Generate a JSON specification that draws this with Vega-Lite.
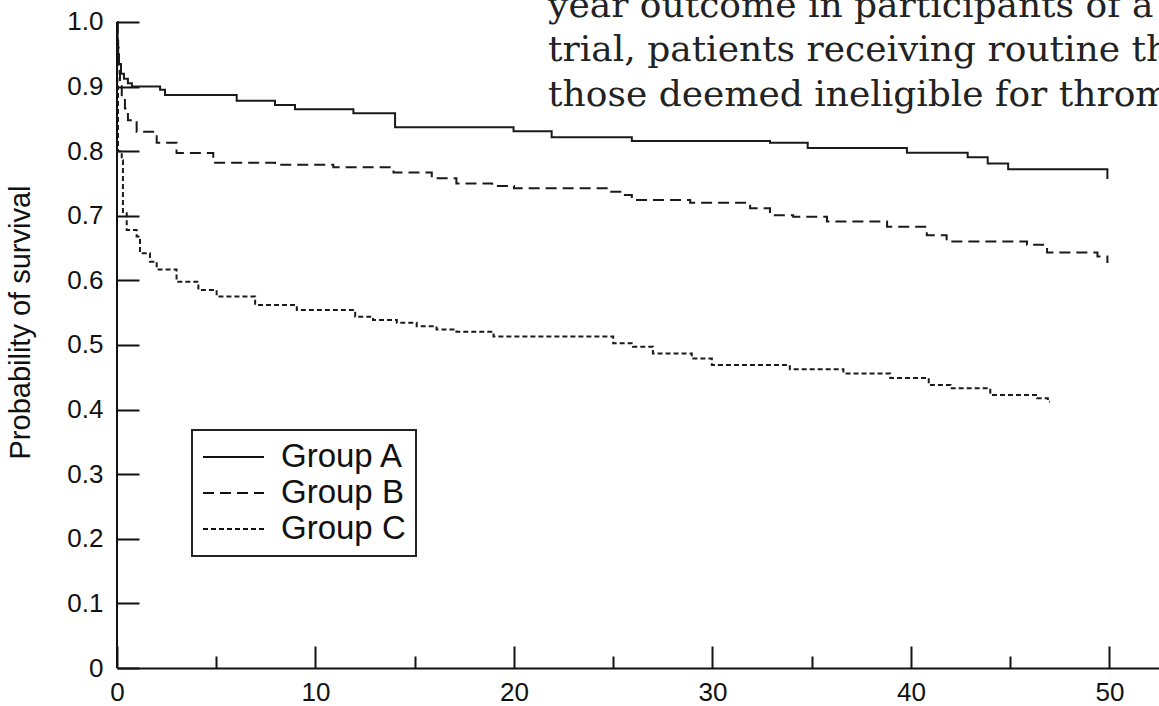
{
  "$schema": "https://vega.github.io/schema/vega-lite/v6.json",
  "width": 1042,
  "height": 668,
  "autosize": {"type": "none"},
  "padding": {"left": 117, "top": 0, "right": 0, "bottom": 38},
  "background": "white",
  "config": {
    "view": {"stroke": null},
    "axis": {"labelFont": "Liberation Sans", "titleFont": "Liberation Sans", "labelColor": "#111", "domainColor": "#111", "tickColor": "#111", "titleColor": "#111", "grid": false}
  },
  "resolve": {"axis": {"x": "independent", "y": "independent"}},
  "layer": [
    {
      "data": {"values": [
        {"group": "Group A", "t": 0, "s": 1.0},
        {"group": "Group A", "t": 0.03, "s": 0.97},
        {"group": "Group A", "t": 0.06, "s": 0.95},
        {"group": "Group A", "t": 0.1, "s": 0.935},
        {"group": "Group A", "t": 0.2, "s": 0.92},
        {"group": "Group A", "t": 0.35, "s": 0.912},
        {"group": "Group A", "t": 0.55, "s": 0.905},
        {"group": "Group A", "t": 0.75, "s": 0.9},
        {"group": "Group A", "t": 2.17, "s": 0.895},
        {"group": "Group A", "t": 2.42, "s": 0.887},
        {"group": "Group A", "t": 6.03, "s": 0.878},
        {"group": "Group A", "t": 7.96, "s": 0.8715},
        {"group": "Group A", "t": 8.97, "s": 0.865},
        {"group": "Group A", "t": 11.91, "s": 0.8586},
        {"group": "Group A", "t": 14.01, "s": 0.837},
        {"group": "Group A", "t": 19.98, "s": 0.831},
        {"group": "Group A", "t": 21.9, "s": 0.8215},
        {"group": "Group A", "t": 25.94, "s": 0.8158},
        {"group": "Group A", "t": 32.9, "s": 0.813},
        {"group": "Group A", "t": 34.8, "s": 0.805},
        {"group": "Group A", "t": 39.8, "s": 0.7977},
        {"group": "Group A", "t": 42.86, "s": 0.7905},
        {"group": "Group A", "t": 43.87, "s": 0.781},
        {"group": "Group A", "t": 44.9, "s": 0.772},
        {"group": "Group A", "t": 49.9, "s": 0.757},
        {"group": "Group B", "t": 0, "s": 1.0},
        {"group": "Group B", "t": 0.03, "s": 0.96},
        {"group": "Group B", "t": 0.08, "s": 0.93},
        {"group": "Group B", "t": 0.15, "s": 0.905},
        {"group": "Group B", "t": 0.24, "s": 0.884},
        {"group": "Group B", "t": 0.4, "s": 0.866},
        {"group": "Group B", "t": 0.55, "s": 0.848},
        {"group": "Group B", "t": 0.99, "s": 0.83},
        {"group": "Group B", "t": 2.0, "s": 0.813},
        {"group": "Group B", "t": 3.0, "s": 0.797},
        {"group": "Group B", "t": 4.85, "s": 0.782},
        {"group": "Group B", "t": 7.96, "s": 0.779},
        {"group": "Group B", "t": 10.9, "s": 0.775},
        {"group": "Group B", "t": 13.93, "s": 0.767},
        {"group": "Group B", "t": 15.86, "s": 0.758},
        {"group": "Group B", "t": 17.1, "s": 0.75},
        {"group": "Group B", "t": 18.9, "s": 0.746},
        {"group": "Group B", "t": 20.0, "s": 0.7425},
        {"group": "Group B", "t": 24.85, "s": 0.7373},
        {"group": "Group B", "t": 25.5, "s": 0.732},
        {"group": "Group B", "t": 25.94, "s": 0.7245},
        {"group": "Group B", "t": 28.88, "s": 0.72},
        {"group": "Group B", "t": 31.9, "s": 0.7115},
        {"group": "Group B", "t": 32.9, "s": 0.701},
        {"group": "Group B", "t": 34.07, "s": 0.6986},
        {"group": "Group B", "t": 35.77, "s": 0.691},
        {"group": "Group B", "t": 38.8, "s": 0.683},
        {"group": "Group B", "t": 40.8, "s": 0.67},
        {"group": "Group B", "t": 41.8, "s": 0.66},
        {"group": "Group B", "t": 45.85, "s": 0.655},
        {"group": "Group B", "t": 46.86, "s": 0.643},
        {"group": "Group B", "t": 49.4, "s": 0.637},
        {"group": "Group B", "t": 49.9, "s": 0.627},
        {"group": "Group C", "t": 0, "s": 1.0},
        {"group": "Group C", "t": 0.02, "s": 0.9},
        {"group": "Group C", "t": 0.05, "s": 0.8},
        {"group": "Group C", "t": 0.24, "s": 0.786},
        {"group": "Group C", "t": 0.3, "s": 0.704},
        {"group": "Group C", "t": 0.49, "s": 0.678},
        {"group": "Group C", "t": 0.99, "s": 0.668},
        {"group": "Group C", "t": 1.16, "s": 0.642},
        {"group": "Group C", "t": 1.66, "s": 0.629},
        {"group": "Group C", "t": 2.0, "s": 0.617},
        {"group": "Group C", "t": 3.0, "s": 0.598},
        {"group": "Group C", "t": 4.1, "s": 0.585},
        {"group": "Group C", "t": 5.02, "s": 0.575},
        {"group": "Group C", "t": 6.96, "s": 0.562},
        {"group": "Group C", "t": 9.06, "s": 0.554},
        {"group": "Group C", "t": 12.0, "s": 0.5438},
        {"group": "Group C", "t": 12.9, "s": 0.5387},
        {"group": "Group C", "t": 14.1, "s": 0.5345},
        {"group": "Group C", "t": 15.1, "s": 0.529},
        {"group": "Group C", "t": 16.1, "s": 0.524},
        {"group": "Group C", "t": 17.1, "s": 0.5206},
        {"group": "Group C", "t": 18.97, "s": 0.513},
        {"group": "Group C", "t": 25.0, "s": 0.5026},
        {"group": "Group C", "t": 26.0, "s": 0.4974},
        {"group": "Group C", "t": 27.0, "s": 0.487},
        {"group": "Group C", "t": 28.96, "s": 0.479},
        {"group": "Group C", "t": 29.97, "s": 0.469},
        {"group": "Group C", "t": 33.9, "s": 0.4624},
        {"group": "Group C", "t": 36.6, "s": 0.456},
        {"group": "Group C", "t": 38.96, "s": 0.449},
        {"group": "Group C", "t": 40.9, "s": 0.438},
        {"group": "Group C", "t": 42.0, "s": 0.433},
        {"group": "Group C", "t": 44.0, "s": 0.4226},
        {"group": "Group C", "t": 46.36, "s": 0.4175},
        {"group": "Group C", "t": 46.9, "s": 0.412},
        {"group": "Group C", "t": 47.0, "s": 0.412}
      ]},
      "mark": {"type": "line", "interpolate": "step-after", "strokeWidth": 2, "color": "#1a1a1a"},
      "encoding": {
        "x": {
          "field": "t", "type": "quantitative",
          "scale": {"domain": [0, 52.5], "nice": false, "zero": false},
          "axis": {"orient": "bottom", "values": [0, 10, 20, 30, 40, 50], "format": "d", "tickSize": -22, "tickWidth": 2, "domainWidth": 2, "labelFontSize": 26, "labelPadding": 33, "labelFlush": false, "labelOverlap": false, "title": null}
        },
        "y": {
          "field": "s", "type": "quantitative",
          "scale": {"domain": [0, 1.034], "nice": false, "zero": true},
          "axis": {"orient": "left", "values": [0, 0.1, 0.2, 0.3, 0.4, 0.5, 0.6, 0.7, 0.8, 0.9, 1.0], "labelExpr": "datum.value == 0 ? '0' : format(datum.value, '.1f')", "tickSize": -22, "tickWidth": 2, "domain": false, "labelFontSize": 26, "labelPadding": 36, "labelFlush": false, "labelOverlap": false, "title": "Probability of survival", "titleFontSize": 29, "titleFontWeight": "normal", "titleX": -97, "titleY": 322, "titleAngle": 270, "titleAlign": "center", "titleBaseline": "middle"}
        },
        "strokeDash": {
          "field": "group", "type": "nominal",
          "scale": {"domain": ["Group A", "Group B", "Group C"], "range": [[1, 0], [11, 6], [5, 3]]},
          "legend": {"orient": "none", "legendX": 75, "legendY": 430, "title": null, "symbolType": "stroke", "symbolSize": 3721, "symbolStrokeWidth": 2, "symbolStrokeColor": "#111", "labelFont": "Liberation Sans", "labelFontSize": 33, "labelColor": "#111", "labelOffset": 16, "clipHeight": 34, "rowPadding": 2, "padding": 10, "strokeColor": "#222", "fillColor": "white", "direction": "vertical", "encode": {"legend": {"update": {"strokeWidth": {"value": 2}}}}}
        }
      }
    },
    {
      "data": {"values": [{}]},
      "mark": {"type": "rule", "strokeWidth": 2, "color": "#111"},
      "encoding": {
        "x": {"datum": 0, "type": "quantitative", "axis": {"orient": "bottom", "values": [5, 15, 25, 35, 45], "tickSize": -12, "tickWidth": 2, "labels": false, "domain": false, "title": null}},
        "y": {"datum": 0, "type": "quantitative", "axis": null},
        "y2": {"datum": 1}
      }
    },
    {
      "data": {"values": [{}]},
      "mark": {"type": "text", "text": ["year outcome in participants of a", "trial, patients receiving routine thrombolysis,", "those deemed ineligible for thrombolysis"], "font": "DejaVu Serif", "fontSize": 36, "lineHeight": 44.5, "align": "left", "baseline": "alphabetic", "color": "#222", "clip": true},
      "encoding": {
        "x": {"datum": 21.72, "type": "quantitative", "axis": null},
        "y": {"datum": 1.008, "type": "quantitative", "axis": null}
      }
    }
  ]
}
